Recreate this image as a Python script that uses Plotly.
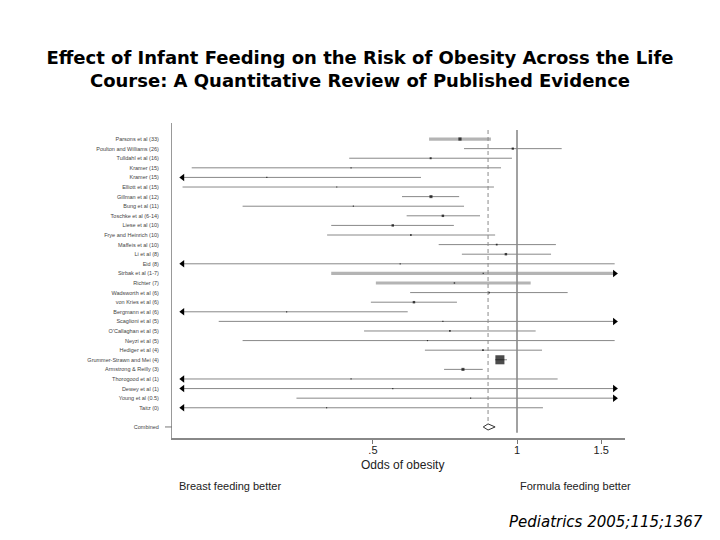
import math
import plotly.graph_objects as go

# ---------------- data ----------------
studies = [
    "Parsons et al (33)", "Poulton and Williams (26)", "Tulldahl et al (16)",
    "Kramer (15)", "Kramer (15)", "Elliott et al (15)", "Gillman et al (12)",
    "Bung et al (11)", "Toschke et al (6-14)", "Liese et al (10)",
    "Frye and Heinrich (10)", "Maffeis et al (10)", "Li et al (8)", "Eid (8)",
    "Strbak et al (1-7)", "Richter (7)", "Wadsworth et al (6)",
    "von Kries et al (6)", "Bergmann et al (6)", "Scaglioni et al (5)",
    "O'Callaghan et al (5)", "Neyzi et al (5)", "Hediger et al (4)",
    "Grummer-Strawn and Mei (4)", "Armstrong & Reilly (3)",
    "Thorogood et al (1)", "Dewey et al (1)", "Young et al (0.5)", "Taitz (0)",
]
odds_ratio = [0.76, 0.98, 0.66, 0.45, 0.30, 0.42, 0.661, 0.455, 0.70, 0.55,
              0.60, 0.907, 0.948, 0.57, 0.85, 0.74, 0.874, 0.609, 0.33, 0.70,
              0.724, 0.65, 0.849, 0.921, 0.771, 0.45, 0.55, 0.80, 0.40]
ci_lower = [0.655, 0.775, 0.446, 0.209, 0.15, 0.20, 0.575, 0.267, 0.588, 0.409,
            0.401, 0.686, 0.767, 0.15, 0.409, 0.507, 0.598, 0.495, 0.18, 0.238,
            0.479, 0.267, 0.642, 0.90, 0.704, 0.15, 0.12, 0.346, 0.14]
ci_upper = [0.882, 1.24, 0.976, 0.926, 0.63, 0.895, 0.757, 0.775, 0.837, 0.738,
            0.90, 1.206, 1.178, 1.60, 1.90, 1.068, 1.276, 0.749, 0.591, 2.0,
            1.094, 1.60, 1.128, 0.953, 0.848, 1.216, 2.5, 1.9, 1.133]
weight = [1.0, 0.5, 0.4, 0.1, 0.1, 0.1, 0.9, 0.1, 0.6, 0.6, 0.3, 0.3, 0.6,
          0.05, 0.1, 0.2, 0.3, 0.6, 0.1, 0.05, 0.3, 0.05, 0.3, 8.0, 0.9,
          0.05, 0.05, 0.05, 0.05]
pooled_label = "Combined"
pooled_or = 0.87
pooled_lower = 0.85
pooled_upper = 0.90
tick_vals = [0.5, 1, 1.5]
tick_text = [".5", "1", "1.5"]
clip_low, clip_high = 0.2, 1.6

# ---------------- style ----------------
thick_rows = {0, 14, 15}
W, H = 720, 540
L, R, T, B = 172, 625, 123, 438
rows = list(range(len(studies)))
pooled_row = len(studies) + 1
y_top, y_bot = -1.67, 31.15

fig = go.Figure()

for i in rows:
    lo = max(ci_lower[i], clip_low)
    hi = min(ci_upper[i], clip_high)
    thick = i in thick_rows
    fig.add_trace(go.Scatter(
        x=[lo, hi], y=[i, i], mode="lines",
        line=dict(color="#b4b4b4" if thick else "#7a7a7a", width=3.2 if thick else 0.9),
        hoverinfo="skip", showlegend=False))
    if ci_lower[i] < clip_low:
        fig.add_trace(go.Scatter(x=[clip_low], y=[i], mode="markers",
                                 marker=dict(symbol="triangle-left", size=6.5, color="black"),
                                 showlegend=False, hoverinfo="skip"))
    if ci_upper[i] > clip_high:
        fig.add_trace(go.Scatter(x=[clip_high], y=[i], mode="markers",
                                 marker=dict(symbol="triangle-right", size=6.5, color="black"),
                                 showlegend=False, hoverinfo="skip"))

sizes = [max(1.2, 3.2 * math.sqrt(w)) for w in weight]
fig.add_trace(go.Scatter(x=odds_ratio, y=rows, mode="markers",
                         marker=dict(symbol="square", size=sizes, color="black", line=dict(width=0)),
                         showlegend=False, hoverinfo="skip"))

# reference lines
fig.add_trace(go.Scatter(x=[1, 1], y=[-0.94, 30.6], mode="lines",
                         line=dict(color="#8a8a8a", width=1.6), showlegend=False, hoverinfo="skip"))
fig.add_trace(go.Scatter(x=[pooled_or, pooled_or], y=[-0.94, 29.4], mode="lines",
                         line=dict(color="#8a8a8a", width=1, dash="4px,3px"),
                         showlegend=False, hoverinfo="skip"))

# pooled diamond
h = 0.32
fig.add_trace(go.Scatter(
    x=[pooled_lower, pooled_or, pooled_upper, pooled_or, pooled_lower],
    y=[pooled_row, pooled_row - h, pooled_row, pooled_row + h, pooled_row],
    mode="lines", fill="toself", fillcolor="white",
    line=dict(color="#333333", width=1), showlegend=False, hoverinfo="skip"))

def px(xp):
    return (xp - L) / (R - L)

def py(yp):
    return (B - yp) / (B - T)

annotations = [
    dict(x=px(402), y=py(464.5), text="Odds of obesity", xanchor="center",
         font=dict(family="Liberation Sans", size=12, color="#222")),
    dict(x=px(177), y=py(486), text="Breast feeding better", xanchor="left",
         font=dict(family="Liberation Sans", size=11, color="#222")),
    dict(x=px(518), y=py(486), text="Formula feeding better", xanchor="left",
         font=dict(family="Liberation Sans", size=11, color="#222")),
    dict(x=px(705), y=py(522), text="<i>Pediatrics 2005;115;1367</i>", xanchor="right",
         font=dict(family="DejaVu Sans", size=15, color="black")),
]
for a in annotations:
    a.update(xref="paper", yref="paper", yanchor="middle", showarrow=False)

fig.update_layout(
    width=W, height=H,
    margin=dict(l=L, r=W - R, t=T, b=H - B, pad=0, autoexpand=False),
    paper_bgcolor="white", plot_bgcolor="white",
    title=dict(text="<b>Effect of Infant Feeding on the Risk of Obesity Across the Life<br>"
                    "Course: A Quantitative Review of Published Evidence</b>",
               x=0.5, xref="container", xanchor="center",
               y=1 - 63.5 / H, yref="container", yanchor="middle",
               font=dict(family="DejaVu Sans", size=18, color="black")),
    annotations=annotations,
    shapes=[dict(type="line", xref="paper", yref="y", x0=px(165), x1=0,
                 y0=pooled_row, y1=pooled_row, line=dict(color="#777", width=1))],
)
fig.update_xaxes(type="log", range=[math.log10(math.exp((L - 517) / 207.8)),
                                    math.log10(math.exp((R - 517) / 207.8))],
                 tickvals=tick_vals, ticktext=tick_text, ticks="outside", ticklen=4,
                 tickcolor="#777", showline=True, linecolor="#888", linewidth=1.6,
                 showgrid=False, zeroline=False, ticklabelstandoff=-3,
                 tickfont=dict(family="Liberation Sans", size=11, color="#222"))
fig.update_yaxes(range=[y_bot, y_top], tickvals=rows + [pooled_row],
                 ticktext=studies + [pooled_label], ticks="", showline=True,
                 linecolor="#999", linewidth=1, showgrid=False, zeroline=False,
                 ticklabelstandoff=11,
                 tickfont=dict(family="Liberation Sans", size=5.5, color="#444"))

fig.write_html("out.html", config={"displayModeBar": False},
               post_script="document.body.style.margin='0px';")
